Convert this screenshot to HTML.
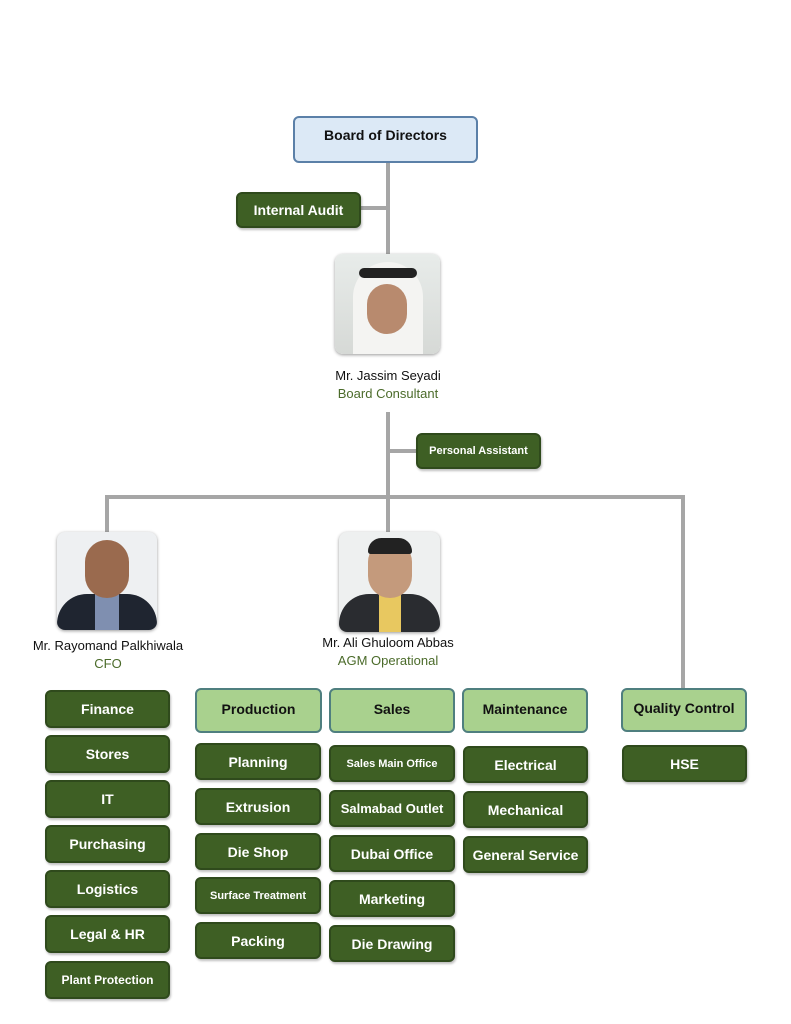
<!DOCTYPE html>
<html><head><meta charset="utf-8"><style>
body{margin:0;width:791px;height:1024px;background:#fff;position:relative;overflow:hidden;font-family:"Liberation Sans",sans-serif}
.b{position:absolute;box-sizing:border-box;border-radius:6px;display:flex;align-items:center;justify-content:center;font-weight:bold;font-size:14px;text-align:center}
.d{background:#3e5f24;border:2px solid #2f4a1c;color:#fff;box-shadow:1px 2px 2px rgba(0,0,0,.25)}
.l{background:#a9d18e;border:2px solid #4f7f7f;color:#111;padding-bottom:4px}
.ln{position:absolute;background:#a6a6a6}
.p{position:absolute;border-radius:8px;box-shadow:0 1px 3px rgba(0,0,0,.4);overflow:hidden}
.t{position:absolute;font-size:13px;text-align:center;color:#111;line-height:18px}
.t span{color:#4b6b2a;display:block}
</style></head><body>
<div class="b" style="left:293px;top:116px;width:185px;height:47px;background:#dce9f6;border:2px solid #5b80a8;color:#111;padding-bottom:10px">Board of Directors</div>
<div class="ln" style="left:386px;top:163px;width:4px;height:92px"></div>
<div class="ln" style="left:361px;top:206px;width:27px;height:4px"></div>
<div class="b d" style="left:236px;top:192px;width:125px;height:36px">Internal Audit</div>
<div class="p" style="left:335px;top:254px;width:105px;height:100px;background:linear-gradient(#e8ecea,#d6d9d6)">
<div style="position:absolute;left:18px;top:8px;width:70px;height:95px;border-radius:35px 35px 0 0;background:#f4f4f2"></div>
<div style="position:absolute;left:32px;top:30px;width:40px;height:50px;border-radius:20px;background:#b88a6e"></div>
<div style="position:absolute;left:24px;top:14px;width:58px;height:10px;border-radius:5px;background:#222"></div>
</div>
<div class="t" style="left:300px;top:367px;width:176px">Mr. Jassim Seyadi<span>Board Consultant</span></div>
<div class="ln" style="left:386px;top:412px;width:4px;height:120px"></div>
<div class="ln" style="left:388px;top:449px;width:28px;height:4px"></div>
<div class="b d" style="left:416px;top:433px;width:125px;height:36px;font-size:11px">Personal Assistant</div>
<div class="ln" style="left:105px;top:495px;width:580px;height:4px"></div>
<div class="ln" style="left:105px;top:495px;width:4px;height:37px"></div>
<div class="ln" style="left:681px;top:495px;width:4px;height:193px"></div>
<div class="p" style="left:57px;top:532px;width:100px;height:98px;background:#eef0f2">
<div style="position:absolute;left:0;top:62px;width:100px;height:40px;background:#1f2530;border-radius:30px 30px 0 0"></div>
<div style="position:absolute;left:38px;top:62px;width:24px;height:40px;background:#7f8fb0"></div>
<div style="position:absolute;left:28px;top:8px;width:44px;height:58px;border-radius:22px;background:#9a6a4e"></div>
</div>
<div class="t" style="left:20px;top:637px;width:176px">Mr. Rayomand Palkhiwala<span>CFO</span></div>
<div class="p" style="left:339px;top:532px;width:101px;height:100px;background:#eef0f0">
<div style="position:absolute;left:0;top:62px;width:101px;height:40px;background:#2a2c30;border-radius:30px 30px 0 0"></div>
<div style="position:absolute;left:40px;top:62px;width:22px;height:40px;background:#e8c860"></div>
<div style="position:absolute;left:29px;top:8px;width:44px;height:58px;border-radius:22px;background:#c49a7c"></div>
<div style="position:absolute;left:29px;top:6px;width:44px;height:16px;border-radius:20px 20px 4px 4px;background:#222"></div>
</div>
<div class="t" style="left:300px;top:634px;width:176px">Mr. Ali Ghuloom Abbas<span>AGM Operational</span></div>

<div class="b d" style="left:45px;top:690px;width:125px;height:38px">Finance</div>
<div class="b d" style="left:45px;top:735px;width:125px;height:38px">Stores</div>
<div class="b d" style="left:45px;top:780px;width:125px;height:38px">IT</div>
<div class="b d" style="left:45px;top:825px;width:125px;height:38px">Purchasing</div>
<div class="b d" style="left:45px;top:870px;width:125px;height:38px">Logistics</div>
<div class="b d" style="left:45px;top:915px;width:125px;height:38px">Legal &amp; HR</div>
<div class="b d" style="left:45px;top:961px;width:125px;height:38px;font-size:12px">Plant Protection</div>

<div class="b l" style="left:195px;top:688px;width:127px;height:45px">Production</div>
<div class="b l" style="left:329px;top:688px;width:126px;height:45px">Sales</div>
<div class="b l" style="left:462px;top:688px;width:126px;height:45px">Maintenance</div>
<div class="b l" style="left:621px;top:688px;width:126px;height:44px">Quality Control</div>

<div class="b d" style="left:195px;top:743px;width:126px;height:37px">Planning</div>
<div class="b d" style="left:195px;top:788px;width:126px;height:37px">Extrusion</div>
<div class="b d" style="left:195px;top:833px;width:126px;height:37px">Die Shop</div>
<div class="b d" style="left:195px;top:877px;width:126px;height:37px;font-size:11px">Surface Treatment</div>
<div class="b d" style="left:195px;top:922px;width:126px;height:37px">Packing</div>

<div class="b d" style="left:329px;top:745px;width:126px;height:37px;font-size:11px">Sales Main Office</div>
<div class="b d" style="left:329px;top:790px;width:126px;height:37px;font-size:13px">Salmabad Outlet</div>
<div class="b d" style="left:329px;top:835px;width:126px;height:37px">Dubai Office</div>
<div class="b d" style="left:329px;top:880px;width:126px;height:37px">Marketing</div>
<div class="b d" style="left:329px;top:925px;width:126px;height:37px">Die Drawing</div>

<div class="b d" style="left:463px;top:746px;width:125px;height:37px">Electrical</div>
<div class="b d" style="left:463px;top:791px;width:125px;height:37px">Mechanical</div>
<div class="b d" style="left:463px;top:836px;width:125px;height:37px">General Service</div>

<div class="b d" style="left:622px;top:745px;width:125px;height:37px">HSE</div>
</body></html>
